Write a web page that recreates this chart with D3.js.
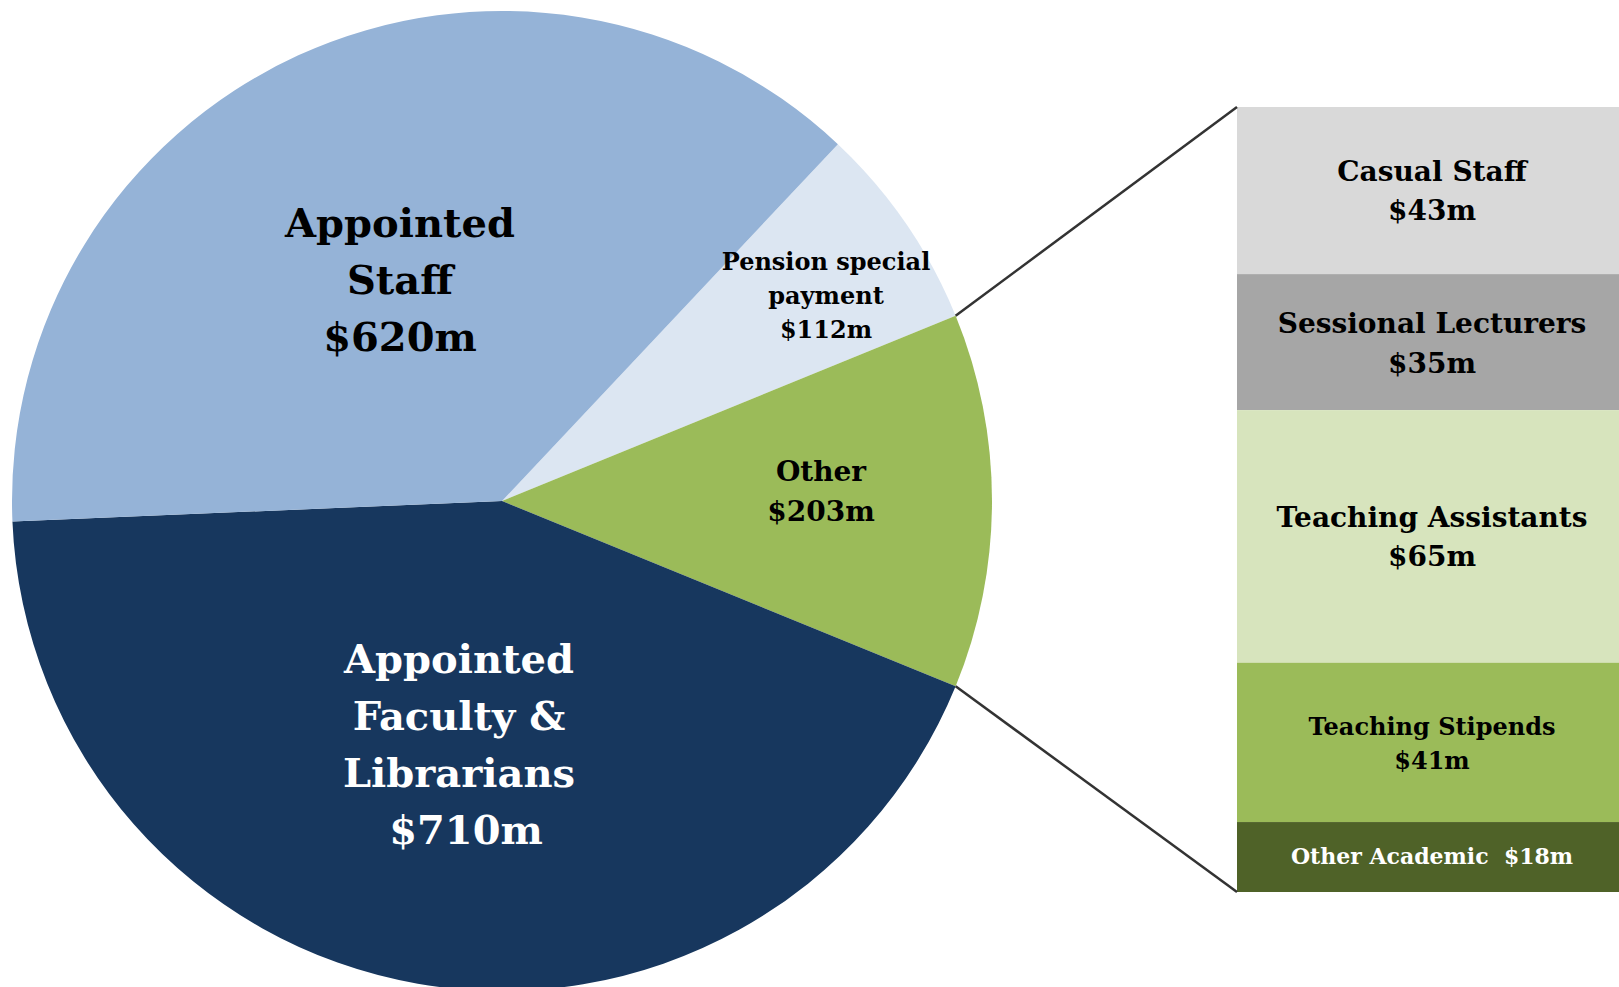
<!DOCTYPE html>
<html>
<head>
<meta charset="utf-8">
<script src="https://cdn.jsdelivr.net/npm/d3@7"></script>
<style>
  body { margin: 0; background: #fff; }
  text { font-family: "DejaVu Serif", "Liberation Serif", serif; font-weight: bold; }
</style>
</head>
<body>
<div id="chart"></div>
<script>
var svgWidth = 1619;
var svgHeight = 987;

// pie slices (in order, clockwise starting from pension)
var pieNames = ["Pension", "Other", "Faculty", "Staff"];
var pieValues = [112, 203, 710, 620];
var pieLabels = [
  ["Pension special", "payment", "$112m"],
  ["Other", "$203m"],
  ["Appointed", "Faculty &", "Librarians", " $710m"],
  ["Appointed", "Staff", "$620m"]
];

// breakdown of "Other"
var barNames = ["Casual Staff", "Sessional Lecturers", "Teaching Assistants", "Teaching Stipends", "Other Academic"];
var barValues = [43, 35, 65, 41, 18];
var barLabels = [
  ["Casual Staff", "$43m"],
  ["Sessional Lecturers", "$35m"],
  ["Teaching Assistants", "$65m"],
  ["Teaching Stipends", "$41m"],
  ["Other Academic  $18m"]
];

var pieColors = ["#dce6f2", "#9bbb59", "#17375e", "#95b3d7"];
var barColors = ["#d9d9d9", "#a6a6a6", "#d7e4bd", "#9bbb59", "#4f6228"];
var barText = ["#000", "#000", "#000", "#000", "#fff"];

var svg = d3.select("#chart")
  .append("svg")
  .attr("width", svgWidth)
  .attr("height", svgHeight);

var cx = 502, cy = 501, radius = 490;

var total = d3.sum(pieValues);
var otherSpan = pieValues[1] / total * 2 * Math.PI;
var pensionSpan = pieValues[0] / total * 2 * Math.PI;
var start = Math.PI / 2 - otherSpan / 2 - pensionSpan;

var pie = d3.pie().sort(null).startAngle(start).endAngle(start + 2 * Math.PI);
var arcs = pie(pieValues);
var arc = d3.arc().innerRadius(0).outerRadius(radius);

var pieGroup = svg.append("g")
  .attr("transform", `translate(${cx}, ${cy})`);

pieGroup.selectAll("path")
  .data(arcs)
  .enter()
  .append("path")
  .attr("d", arc)
  .attr("fill", (d, i) => pieColors[i]);

// label placement in the pie (centre x, first baseline, font size, line step)
var pieLabelPos = [
  {x: 826, y: 270, size: 24, step: 34, color: "#000"},
  {x: 821, y: 481, size: 28, step: 40, color: "#000"},
  {x: 459, y: 673, size: 40, step: 57, color: "#fff"},
  {x: 400, y: 237, size: 40, step: 57, color: "#000"}
];

pieLabels.forEach(function (lines, i) {
  var p = pieLabelPos[i];
  var t = svg.append("text")
    .attr("text-anchor", "middle")
    .attr("xml:space", "preserve")
    .style("white-space", "pre")
    .style("font-size", p.size + "px")
    .attr("fill", p.color);
  lines.forEach(function (line, j) {
    t.append("tspan")
      .attr("x", p.x)
      .attr("y", p.y + j * p.step)
      .text(line);
  });
});

// stacked bar
var barX = 1237, barW = 382, barTop = 107, barBottom = 892;
var barTotal = d3.sum(barValues);
var yScale = d3.scaleLinear()
  .domain([0, barTotal])
  .range([barTop, barBottom]);

var cum = d3.cumsum(barValues);
var barData = barValues.map((v, i) => ({v: v, y0: cum[i] - v, y1: cum[i], i: i}));

svg.selectAll("rect.seg")
  .data(barData)
  .enter()
  .append("rect")
  .attr("class", "seg")
  .attr("x", barX)
  .attr("width", barW)
  .attr("y", d => yScale(d.y0))
  .attr("height", d => yScale(d.y1) - yScale(d.y0))
  .attr("fill", d => barColors[d.i]);

var barFont = [28, 28, 28, 24, 22];
var barStep = [39, 40, 39, 34, 0];
barData.forEach(function (d) {
  var lines = barLabels[d.i];
  var mid = (yScale(d.y0) + yScale(d.y1)) / 2;
  var step = barStep[d.i];
  var first = mid - (lines.length - 1) * step / 2 + barFont[d.i] * 0.3 + (lines.length > 1 ? 2 : 0);
  var t = svg.append("text")
    .attr("text-anchor", "middle")
    .style("white-space", "pre")
    .style("font-size", barFont[d.i] + "px")
    .attr("fill", barText[d.i]);
  lines.forEach(function (line, j) {
    t.append("tspan")
      .attr("x", 1432)
      .attr("y", first + j * step)
      .text(line);
  });
});

// connector lines from the "Other" slice edges to the bar corners
var otherArc = arcs[1];
var edgePts = [otherArc.startAngle, otherArc.endAngle].map(a => [
  cx + radius * Math.sin(a),
  cy - radius * Math.cos(a)
]);

svg.append("line")
  .attr("x1", edgePts[0][0]).attr("y1", edgePts[0][1])
  .attr("x2", barX).attr("y2", barTop)
  .attr("stroke", "#333").attr("stroke-width", 2.5);

svg.append("line")
  .attr("x1", edgePts[1][0]).attr("y1", edgePts[1][1])
  .attr("x2", barX).attr("y2", barBottom)
  .attr("stroke", "#333").attr("stroke-width", 2.5);
</script>
</body>
</html>
